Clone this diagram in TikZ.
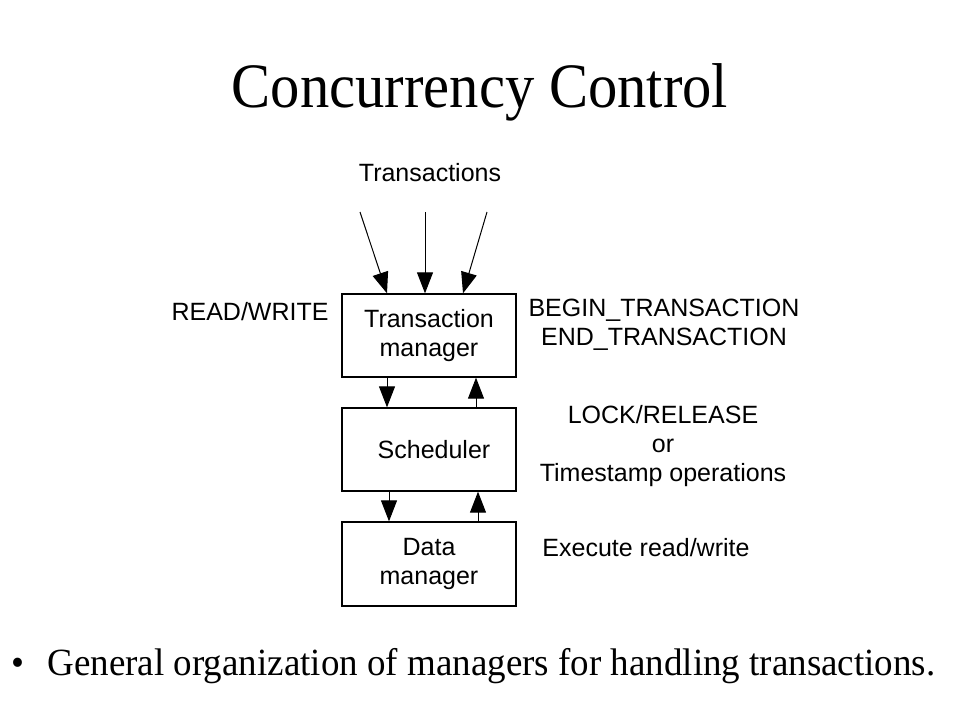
\documentclass[tikz,border=0pt]{standalone}
\usepackage{fontspec}
\setmainfont{Liberation Sans}
\newfontfamily\slidefont{Liberation Serif}
\usetikzlibrary{arrows.meta, positioning}

\begin{document}
\begin{tikzpicture}[
            x = 1pt, y = -1pt, % one unit per pixel
            > = {Triangle[length=21pt, width=16pt]}, % arrow head style
            line width = 1pt
        ]

        \tikzstyle{box}=[
            draw = black,
            line width = 1.3pt,
            minimum width = 174pt,
            minimum height = 83pt,
            inner sep = 0pt,
            align = center,
            font = \fontsize{25}{28.5}\selectfont
        ]
        \tikzstyle{note}=[
            inner sep = 0pt,
            align = center,
            font = \fontsize{25}{29}\selectfont
        ]

        \useasboundingbox (0,0) rectangle (960,720);

        % title and caption
        \node[anchor=base, yscale=1.08, transform shape, font=\slidefont\fontsize{58.6}{60}\selectfont] (title) at (480,107) {Concurrency Control};
        \node[anchor=base west, inner sep=0pt, yscale=1.04, transform shape, font=\slidefont\fontsize{37}{40}\selectfont] (caption) at (11,675)
            {\textbullet\hspace{23pt}General organization of managers for handling transactions.};

        % managers
        \node[box] (tm) at (429,335.5) {Transaction\\manager};
        \node[box] (sch) at (429,449.5) {\hspace*{10pt}Scheduler};
        \node[box, minimum height=84pt] (dm) at (429,564) {Data\\manager};

        % labels
        \node[note] (trans) at (430,173) {Transactions};
        \node[note, anchor=east] (rw) at (329,312) {READ/WRITE};
        \node[note] (bt) at (664,325) {BEGIN\_TRANSACTION\\END\_TRANSACTION};
        \node[note] (lock) at (663,446) {LOCK/RELEASE\\or\\Timestamp operations};
        \node[note] (exec) at (646,548) {Execute read/write};

        % incoming transactions
        \coordinate (in1) at (360,212);
        \coordinate (in2) at (425,212);
        \coordinate (in3) at (487,212);

        \draw[->] (in1) -- ([xshift=-42pt]tm.north);
        \draw[->] (in2) -- ([xshift=-4pt]tm.north);
        \draw[->] (in3) -- ([xshift=34pt]tm.north);

        \draw[->] ([xshift=-42pt]tm.south) -- ([xshift=-42pt]sch.north);
        \draw[->] ([xshift=47pt]sch.north) -- ([xshift=47pt]tm.south);
        \draw[->] ([xshift=-40pt]sch.south) -- ([xshift=-40pt]dm.north);
        \draw[->] ([xshift=49pt]dm.north) -- ([xshift=49pt]sch.south);

    \end{tikzpicture}
\end{document}
